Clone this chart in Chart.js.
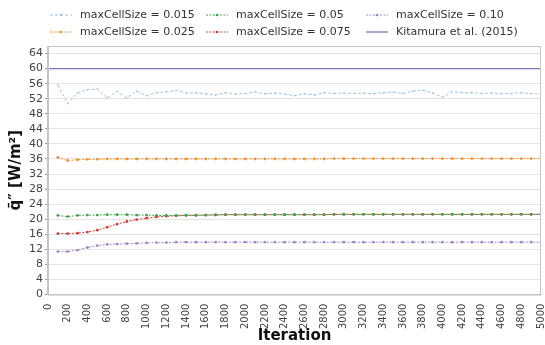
<!DOCTYPE html>
<html>
<head>
<meta charset="utf-8">
<script src="https://cdn.jsdelivr.net/npm/chart.js@4.4.1/dist/chart.umd.min.js"></script>
<style>
  html, body { margin: 0; padding: 0; background: #fff; }
  #wrap { width: 545px; height: 345px; }
</style>
</head>
<body>
<div id="wrap"><canvas id="chart"></canvas></div>
<script>
// iterations sampled every 100 steps
const iterations = [
  100, 200, 300, 400, 500, 600, 700, 800, 900, 1000,
  1100, 1200, 1300, 1400, 1500, 1600, 1700, 1800, 1900, 2000,
  2100, 2200, 2300, 2400, 2500, 2600, 2700, 2800, 2900, 3000,
  3100, 3200, 3300, 3400, 3500, 3600, 3700, 3800, 3900, 4000,
  4100, 4200, 4300, 4400, 4500, 4600, 4700, 4800, 4900, 5000
];

const q015 = [
  55.6, 50.7, 53.5, 54.4, 54.6, 52.2, 54.0, 52.2, 54.0, 52.8,
  53.6, 53.8, 54.2, 53.5, 53.6, 53.3, 53.0, 53.6, 53.2, 53.4,
  53.8, 53.3, 53.5, 53.2, 52.8, 53.3, 53.0, 53.6, 53.4, 53.5,
  53.4, 53.5, 53.3, 53.6, 53.8, 53.4, 54.0, 54.3, 53.5, 52.4,
  53.9, 53.6, 53.6, 53.4, 53.5, 53.3, 53.4, 53.6, 53.4, 53.2
];

const q025 = [
  36.4, 35.6, 35.8, 35.9, 35.9, 36.0, 36.0, 36.0, 36.0, 36.0,
  36.0, 36.0, 36.0, 36.0, 36.0, 36.0, 36.0, 36.0, 36.0, 36.0,
  36.0, 36.0, 36.0, 36.0, 36.0, 36.0, 36.0, 36.0, 36.1, 36.1,
  36.1, 36.1, 36.1, 36.1, 36.1, 36.1, 36.1, 36.1, 36.1, 36.1,
  36.1, 36.1, 36.1, 36.1, 36.1, 36.1, 36.1, 36.1, 36.1, 36.1
];

const q050 = [
  21.0, 20.7, 21.0, 21.1, 21.1, 21.2, 21.2, 21.2, 21.1, 21.1,
  21.0, 21.0, 21.0, 21.1, 21.1, 21.1, 21.2, 21.2, 21.2, 21.2,
  21.2, 21.2, 21.2, 21.2, 21.2, 21.2, 21.2, 21.2, 21.3, 21.3,
  21.3, 21.3, 21.3, 21.3, 21.3, 21.3, 21.3, 21.3, 21.3, 21.3,
  21.3, 21.3, 21.3, 21.3, 21.3, 21.3, 21.3, 21.3, 21.3, 21.3
];

const q075 = [
  16.2, 16.2, 16.3, 16.6, 17.1, 17.9, 18.7, 19.4, 19.9, 20.3,
  20.6, 20.8, 20.9, 21.0, 21.0, 21.1, 21.1, 21.2, 21.2, 21.2,
  21.2, 21.2, 21.2, 21.2, 21.2, 21.2, 21.2, 21.2, 21.3, 21.3,
  21.3, 21.3, 21.3, 21.3, 21.3, 21.3, 21.3, 21.3, 21.3, 21.3,
  21.3, 21.3, 21.3, 21.3, 21.3, 21.3, 21.3, 21.3, 21.3, 21.3
];

const q100 = [
  11.4, 11.4, 11.8, 12.5, 13.0, 13.3, 13.4, 13.5, 13.6, 13.7,
  13.8, 13.8, 13.9, 13.9, 13.9, 13.9, 13.9, 13.9, 13.9, 13.9,
  13.9, 13.9, 13.9, 13.9, 13.9, 13.9, 13.9, 13.9, 13.9, 13.9,
  13.9, 13.9, 13.9, 13.9, 13.9, 13.9, 13.9, 13.9, 13.9, 13.9,
  13.9, 13.9, 13.9, 13.9, 13.9, 13.9, 13.9, 13.9, 13.9, 13.9
];

// reference value, drawn across the whole range
const kitamuraX = [0, 5000];
const kitamuraY = [60, 60];

const yTicks = [0, 4, 8, 12, 16, 20, 24, 28, 32, 36, 40, 44, 48, 52, 56, 60, 64];

const seriesNames = [
  "maxCellSize = 0.015",
  "maxCellSize = 0.025",
  "maxCellSize = 0.05",
  "maxCellSize = 0.075",
  "maxCellSize = 0.10",
  "Kitamura et al. (2015)"
];

const pairs = (xs, ys) => xs.map((x, i) => ({ x, y: ys[i] }));

function series(label, values, color, radius, dash) {
  return {
    label,
    data: pairs(iterations, values),
    borderColor: color,
    backgroundColor: color,
    borderWidth: 1,
    borderDash: dash,
    pointRadius: radius,
    pointBorderWidth: 0,
    tension: 0,
  };
}

const datasets = [
  series(seriesNames[0], q015, "#9cc3e0", 0.8, [3, 2]),
  series(seriesNames[1], q025, "#f5922e", 1.4, [2, 1.5]),
  series(seriesNames[2], q050, "#3fa34a", 1.4, [2, 1.5]),
  series(seriesNames[3], q075, "#d63a3a", 1.4, [2, 1.5]),
  series(seriesNames[4], q100, "#a385cc", 1.4, [2, 1.5]),
  {
    label: seriesNames[5],
    data: pairs(kitamuraX, kitamuraY),
    borderColor: "#7478bf",
    backgroundColor: "#7478bf",
    borderWidth: 1.3,
    pointRadius: 0,
  },
];

// legend in 3 columns x 2 rows, filled column by column
const gridLegend = {
  id: "gridLegend",
  afterDraw(chart) {
    const ctx = chart.ctx;
    const colX = [50, 206, 366];
    const rowY = [15, 32];
    ctx.save();
    ctx.font = "11px 'DejaVu Sans'";
    ctx.textBaseline = "middle";
    chart.data.datasets.forEach((ds, i) => {
      const x = colX[Math.floor(i / 2)];
      const y = rowY[i % 2];
      ctx.strokeStyle = ds.borderColor;
      ctx.lineWidth = ds.borderWidth;
      ctx.setLineDash(ds.borderDash || []);
      ctx.beginPath();
      ctx.moveTo(x, y);
      ctx.lineTo(x + 22, y);
      ctx.stroke();
      ctx.setLineDash([]);
      if (ds.pointRadius > 0) {
        ctx.fillStyle = ds.borderColor;
        ctx.beginPath();
        ctx.arc(x + 11, y, 1.3, 0, Math.PI * 2);
        ctx.fill();
      }
      ctx.fillStyle = "#333";
      ctx.fillText(ds.label, x + 30, y);
    });
    ctx.restore();
  },
};

// light box around the plotting area
const plotBox = {
  id: "plotBox",
  afterDraw(chart) {
    const { ctx, chartArea: a } = chart;
    ctx.save();
    ctx.strokeStyle = "#c4c4c4";
    ctx.lineWidth = 1;
    ctx.strokeRect(a.left + 0.5, a.top + 0.5, a.right - a.left - 1, a.bottom - a.top);
    ctx.restore();
  },
};

new Chart(document.getElementById("chart"), {
  type: "line",
  data: { datasets },
  plugins: [gridLegend, plotBox],
  options: {
    responsive: true,
    maintainAspectRatio: false,
    animation: false,
    layout: { padding: { top: 46, right: 3, left: 7, bottom: 0 } },
    plugins: { legend: { display: false }, tooltip: { enabled: false } },
    scales: {
      x: {
        type: "linear",
        min: 0,
        max: 5000,
        grid: { display: false },
        border: { color: "#c4c4c4" },
        afterFit(scale) {
          // let the last label run to the page edge, as in the original
          scale.paddingRight = 0;
        },
        ticks: {
          stepSize: 200,
          autoSkip: false,
          minRotation: 90,
          maxRotation: 90,
          padding: 1,
          color: "#444",
          font: { family: "'DejaVu Sans'", size: 10 },
          callback: (v) => String(v),
        },
        title: {
          display: true,
          text: "Iteration",
          color: "#111",
          padding: { top: -3, bottom: 0 },
          font: { family: "'DejaVu Sans'", size: 15, weight: "bold" },
        },
      },
      y: {
        min: 0,
        max: 66,
        afterBuildTicks(scale) {
          scale.ticks = yTicks.map((v) => ({ value: v }));
        },
        grid: { color: "#e3e3e3", tickLength: 3, tickColor: "#999" },
        border: { color: "#c4c4c4" },
        ticks: {
          autoSkip: false,
          padding: 2,
          color: "#444",
          font: { family: "'DejaVu Sans'", size: 11 },
        },
        title: {
          display: true,
          text: "q\u0304\u2033 [W/m\u00b2]",
          color: "#111",
          padding: { top: 0, bottom: 2 },
          font: { family: "'DejaVu Sans'", size: 15, weight: "bold" },
        },
      },
    },
  },
});
</script>
</body>
</html>
